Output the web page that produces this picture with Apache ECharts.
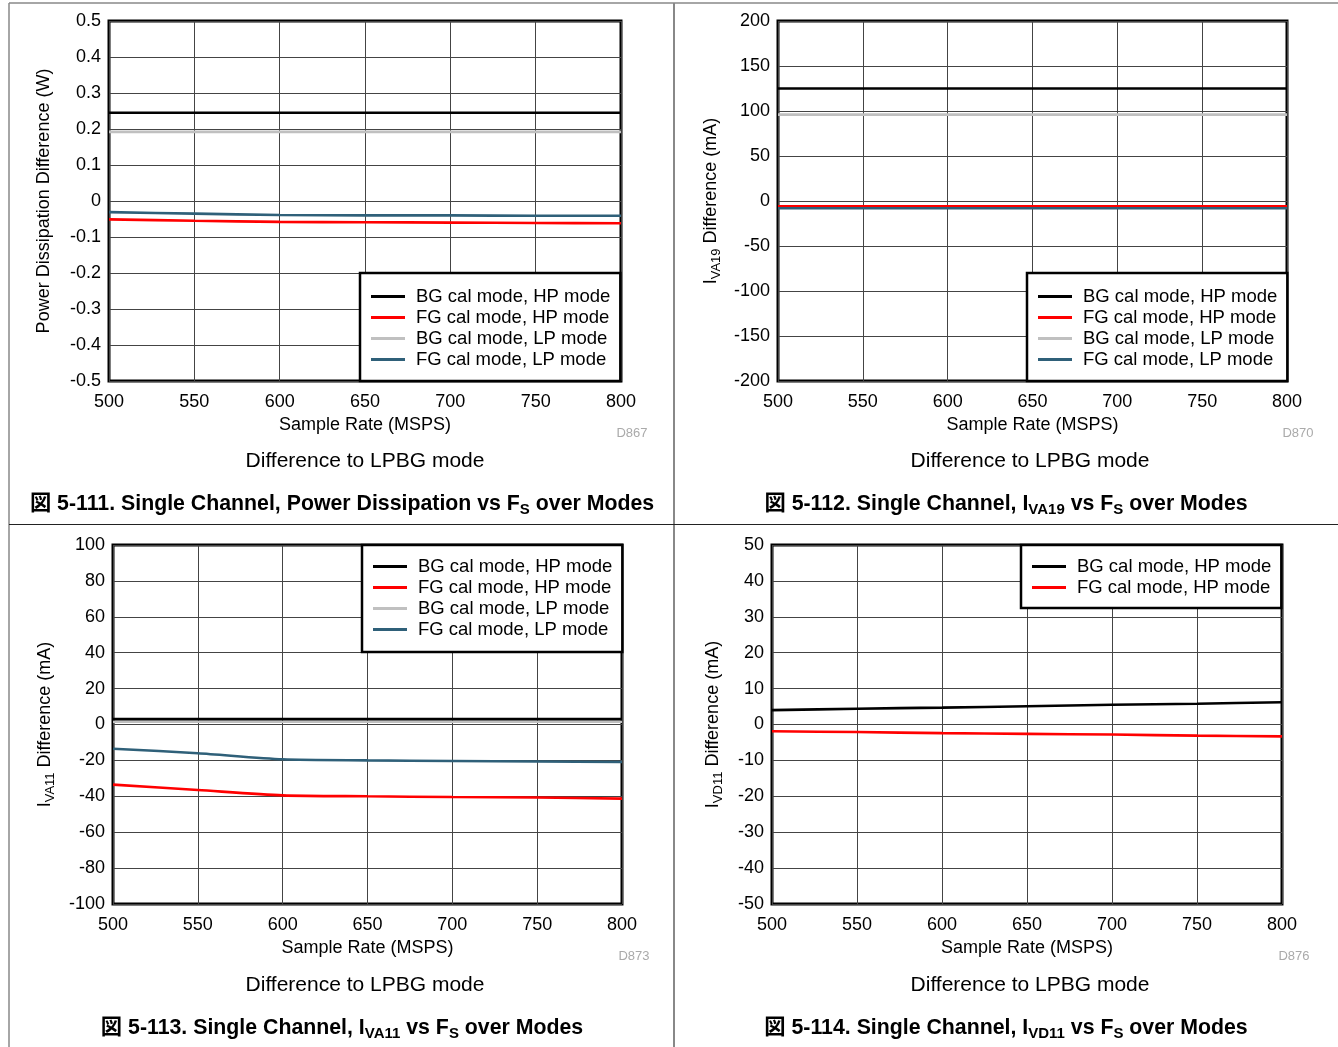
<!DOCTYPE html>
<html><head><meta charset="utf-8">
<script src="https://cdn.jsdelivr.net/npm/echarts@6/dist/echarts.min.js"></script>
<style>html,body{margin:0;padding:0;background:#fff}#c{width:1338px;height:1047px}</style>
</head><body><div id="c"></div>
<script>
const sampleRate = [500, 550, 600, 650, 700, 750, 800];
const seriesNames = ['BG cal mode, HP mode', 'FG cal mode, HP mode', 'BG cal mode, LP mode', 'FG cal mode, LP mode'];
// Panel 1: Power dissipation difference (W)
const p1BgHp = [0.245, 0.245, 0.245, 0.245, 0.245, 0.245, 0.245];
const p1FgHp = [-0.051, -0.055, -0.058, -0.059, -0.060, -0.061, -0.062];
const p1BgLp = [0.192, 0.192, 0.192, 0.192, 0.192, 0.192, 0.192];
const p1FgLp = [-0.031, -0.035, -0.039, -0.040, -0.040, -0.041, -0.041];
// Panel 2: IVA19 difference (mA)
const p2BgHp = [125, 125, 125, 125, 125, 125, 125];
const p2FgHp = [-6, -6, -6, -6, -6, -6, -6];
const p2BgLp = [96, 96, 96, 96, 96, 96, 96];
const p2FgLp = [-8, -8, -8, -8, -8, -8, -8];
// Panel 3: IVA11 difference (mA)
const p3BgHp = [3, 3, 3, 3, 3, 3, 3];
const p3FgHp = [-33.5, -36.5, -39.5, -40, -40.4, -40.7, -41.3];
const p3BgLp = [1.5, 1.5, 1.5, 1.5, 1.5, 1.5, 1.5];
const p3FgLp = [-13.5, -16, -19.4, -20, -20.3, -20.6, -20.9];
// Panel 4: IVD11 difference (mA)
const p4BgHp = [4.0, 4.4, 4.7, 5.1, 5.5, 5.8, 6.2];
const p4FgHp = [-1.9, -2.1, -2.4, -2.6, -2.8, -3.1, -3.3];
// Axis ranges
const yRanges = [[-0.5, 0.5, 0.1], [-200, 200, 50], [-100, 100, 20], [-50, 50, 10]];
const xRange = [500, 800, 50];

const colors = ['#000000', '#ff0000', '#c0c0c0', '#2f6079'];
const FONT = "'Liberation Sans', Arial, 'Noto Sans CJK JP', sans-serif";

const grids = [
  {left: 109, top: 21, width: 512, height: 360},
  {left: 778, top: 21, width: 509, height: 360},
  {left: 113, top: 545, width: 509, height: 359},
  {left: 772, top: 545, width: 510, height: 359}
];
grids.forEach(g => { g.show = true; g.borderColor = '#000'; g.borderWidth = 3; g.backgroundColor = '#fff'; });

const yNames = [
  '{n|Power Dissipation Difference (W)}',
  '{n|I}{s|VA19}{n| Difference (mA)}',
  '{n|I}{s|VA11}{n| Difference (mA)}',
  '{n|I}{s|VD11}{n| Difference (mA)}'
];
const yGaps = [53, 55, 56, 47];
const richName = {
  n: {fontSize: 18, fontFamily: FONT, color: '#000', verticalAlign: 'top', lineHeight: 21},
  s: {fontSize: 13, fontFamily: FONT, color: '#000', verticalAlign: 'top', padding: [8, 0, 0, 0], lineHeight: 13}
};

const xAxes = grids.map((g, i) => ({
  type: 'value', gridIndex: i, min: xRange[0], max: xRange[1], interval: xRange[2],
  name: 'Sample Rate (MSPS)', nameLocation: 'middle', nameGap: 35,
  nameTextStyle: {fontSize: 18, fontFamily: FONT, color: '#000'},
  axisLine: {show: false}, axisTick: {show: false},
  axisLabel: {fontSize: 18, fontFamily: FONT, color: '#000', margin: 12},
  splitLine: {show: true, lineStyle: {color: '#444', width: 1}}
}));
const yAxes = grids.map((g, i) => ({
  type: 'value', gridIndex: i, min: yRanges[i][0], max: yRanges[i][1], interval: yRanges[i][2],
  name: yNames[i], nameLocation: 'middle', nameGap: yGaps[i], nameRotate: 90,
  nameTextStyle: {rich: richName},
  axisLine: {show: false}, axisTick: {show: false},
  axisLabel: {fontSize: 18, fontFamily: FONT, color: '#000', margin: 8,
    formatter: v => String(Math.round(v * 1000) / 1000)},
  splitLine: {show: true, lineStyle: {color: '#444', width: 1}}
}));

const panelData = [
  [p1BgHp, p1FgHp, p1BgLp, p1FgLp],
  [p2BgHp, p2FgHp, p2BgLp, p2FgLp],
  [p3BgHp, p3FgHp, p3BgLp, p3FgLp],
  [p4BgHp, p4FgHp]
];
const series = [];
panelData.forEach((arrs, gi) => {
  arrs.forEach((arr, si) => {
    series.push({
      type: 'line', name: seriesNames[si], xAxisIndex: gi, yAxisIndex: gi,
      data: sampleRate.map((x, k) => [x, arr[k]]),
      showSymbol: false, symbol: 'none', smooth: 0.25,
      color: colors[si],
      lineStyle: {color: colors[si], width: 2.6},
      itemStyle: {color: colors[si]},
      z: si === 0 ? 5 : 4,
      silent: true
    });
  });
});

function mkLegend(left, top, names, pad) {
  return {
    orient: 'vertical', left: left, top: top, data: names,
    icon: 'rect', itemWidth: 34, itemHeight: 3, itemGap: 0,
    padding: pad, backgroundColor: '#fff', borderColor: '#000', borderWidth: 2.5,
    textStyle: {fontSize: 18.5, fontFamily: FONT, color: '#000', lineHeight: 21, padding: [0, 0, 0, 6]},
    selectedMode: false, z: 10
  };
}
const legends = [
  mkLegend(360, 273, seriesNames, [13, 10, 11, 11]),
  mkLegend(1027, 273, seriesNames, [13, 10, 11, 11]),
  mkLegend(362, 545, seriesNames, [11, 10, 12, 11]),
  mkLegend(1021, 545, seriesNames.slice(0, 2), [11, 10, 10, 11])
];

const subRich = {
  b: {fontSize: 21.3, fontWeight: 'bold', fontFamily: FONT, color: '#000', verticalAlign: 'top', lineHeight: 25},
  s: {fontSize: 15, fontWeight: 'bold', fontFamily: FONT, color: '#000', verticalAlign: 'top', padding: [9, 0, 0, 0], lineHeight: 15}
};
function txt(x, y, t, size, color, weight) {
  return {type: 'text', x: x, y: y, z: 20, style: {text: t, fill: color, font: (weight || 'normal') + ' ' + size + 'px ' + FONT, textAlign: 'center', textVerticalAlign: 'middle'}};
}
function cap(x, y, t) {
  return {type: 'text', x: x, y: y, z: 20, style: {text: t, rich: subRich, textAlign: 'center', textVerticalAlign: 'middle'}};
}
function ln(x1, y1, x2, y2, c, w) {
  return {type: 'line', z: 20, shape: {x1: x1, y1: y1, x2: x2, y2: y2}, style: {stroke: c, lineWidth: w}};
}
const graphics = [
  ln(9, 3, 1338, 3, '#888', 1.5),
  ln(9, 3, 9, 1047, '#888', 1.5),
  ln(674, 3, 674, 1047, '#888', 2),
  ln(9, 524.5, 1338, 524.5, '#222', 1.2),
  txt(632, 433.5, 'D867', 13, '#aaa'),
  txt(1298, 433.5, 'D870', 13, '#aaa'),
  txt(634, 956.5, 'D873', 13, '#aaa'),
  txt(1294, 956.5, 'D876', 13, '#aaa'),
  txt(365, 461, 'Difference to LPBG mode', 21, '#000'),
  txt(1030, 461, 'Difference to LPBG mode', 21, '#000'),
  txt(365, 985, 'Difference to LPBG mode', 21, '#000'),
  txt(1030, 985, 'Difference to LPBG mode', 21, '#000'),
  cap(342, 506, '{b|図 5-111. Single Channel, Power Dissipation vs F}{s|S}{b| over Modes}'),
  cap(1006, 506, '{b|図 5-112. Single Channel, I}{s|VA19}{b| vs F}{s|S}{b| over Modes}'),
  cap(342, 1030, '{b|図 5-113. Single Channel, I}{s|VA11}{b| vs F}{s|S}{b| over Modes}'),
  cap(1006, 1030, '{b|図 5-114. Single Channel, I}{s|VD11}{b| vs F}{s|S}{b| over Modes}')
];

const chart = echarts.init(document.getElementById('c'));
chart.setOption({
  animation: false,
  backgroundColor: '#fff',
  grid: grids, xAxis: xAxes, yAxis: yAxes, series: series,
  legend: legends, graphic: graphics
});
</script></body></html>
